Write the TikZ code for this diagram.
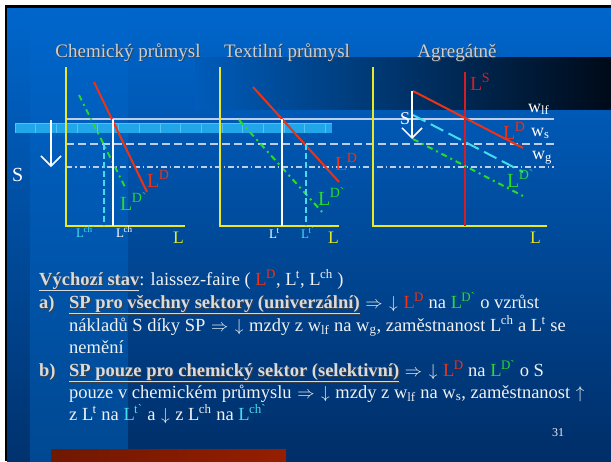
\documentclass[tikz,border=0pt]{standalone}
\usepackage{fontspec}
\setmainfont{Liberation Serif}
\usetikzlibrary{arrows.meta}
\definecolor{bgtop}{RGB}{0,102,204}
\definecolor{bgmid}{RGB}{0,86,176}
\definecolor{bgbot}{RGB}{0,46,104}
\definecolor{stripbot}{RGB}{0,72,146}
\definecolor{edgebot}{RGB}{0,50,110}
\definecolor{bandl}{RGB}{0,92,186}
\definecolor{bandm}{RGB}{0,46,100}
\definecolor{bandr}{RGB}{0,10,24}
\definecolor{axisy}{RGB}{232,232,40}
\definecolor{lred}{RGB}{240,50,20}
\definecolor{lsred}{RGB}{210,30,40}
\definecolor{lgreen}{RGB}{40,220,40}
\definecolor{lcyan}{RGB}{70,220,240}
\definecolor{wline}{RGB}{190,206,232}
\definecolor{txt}{RGB}{240,240,240}
\definecolor{ttl}{RGB}{205,205,205}
\definecolor{boldc}{RGB}{218,218,218}
\definecolor{stripe}{RGB}{34,166,234}
\definecolor{stripel}{RGB}{80,196,248}
\definecolor{barl}{RGB}{112,24,0}
\definecolor{barm}{RGB}{255,50,0}
\definecolor{barr}{RGB}{150,30,0}
\newcommand\shd[1]{\rlap{\kern1pt\raisebox{-1pt}{\color{black!75}#1}}#1}
\newcommand\bshd[1]{{\color{boldc}\shd{#1}}}
\newcommand\sups[1]{\kern-0.6pt\textsuperscript{#1}}
\newcommand\rLD{\textcolor{lred}{L\sups{D}}}
\newcommand\gLD{\textcolor{lgreen}{L\sups{D\textasciigrave}}}
\newcommand\cLt{\textcolor{lcyan}{L\sups{t\textasciigrave}}}
\newcommand\cLch{\textcolor{lcyan}{L\sups{ch\textasciigrave}}}
\newcommand\myimp{\kern1pt$\Rightarrow$\kern1pt}
\newcommand\mydn{\kern1pt$\downarrow$\kern1pt}
\newcommand\myup{\kern1pt$\uparrow$}
\tikzset{
  axisline/.style={draw=axisy, line width=2pt},
  wlf/.style={draw=wline, line width=2pt},
  ws/.style={draw=wline, line width=2pt, dash pattern=on 8pt off 4pt},
  wg/.style={draw=wline, line width=1.5pt, dash pattern=on 6pt off 3pt on 1.5pt off 3pt},
  redcurve/.style={draw=lred, line width=2pt},
  greencurve/.style={draw=lgreen, line width=2pt, dash pattern=on 6pt off 4pt on 2pt off 4pt},
  cyancurve/.style={draw=lcyan, line width=2pt, dash pattern=on 14pt off 6pt},
  marker/.style={draw=white, line width=1.5pt},
  cmarker/.style={draw=lcyan, line width=1.5pt, dash pattern=on 6pt off 3pt},
  sarrow/.style={draw=white, line width=1.5pt, -{Straight Barb[length=10pt,width=20pt,line width=1.5pt]}},
  title/.style={text=ttl, font=\fontsize{19}{22}\selectfont, inner sep=0pt},
  big/.style={font=\fontsize{20}{24}\selectfont, inner sep=0pt, anchor=base west},
  small/.style={font=\fontsize{13}{15}\selectfont, inner sep=0pt, anchor=base west},
  wlab/.style={text=white, font=\fontsize{18}{21}\selectfont, inner sep=0pt, anchor=base west},
  llab/.style={text=axisy, font=\fontsize{17.5}{20}\selectfont, inner sep=0pt, anchor=base west},
  body/.style={text=txt, font=\fontsize{18.5}{22}\selectfont, inner sep=0pt, anchor=base west},
}
\begin{document}
\begin{tikzpicture}[x=1pt,y=-1pt]
\useasboundingbox (0,0) rectangle (611,461);
% frame and background
\fill[white] (0,0) rectangle (611,461);
\fill[black] (5,5) rectangle (611,461);
\shade[top color=bgtop, middle color=bgmid, bottom color=edgebot] (7,8) rectangle (30,461);
\shade[top color=bgtop, middle color=bgmid, bottom color=stripbot] (30,8) rectangle (128,461);
\shade[top color=bgtop, middle color=bgmid, bottom color=bgbot] (128,8) rectangle (611,461);
\shade[left color=bandl, middle color=bandm, right color=bandr] (195,57) rectangle (611,109);
\shade[left color=barl, middle color=barm, right color=barr] (51,449) rectangle (286,461);
% stripe band
\fill[stripe] (15,123) rectangle (332,133);
\foreach \i in {0,...,15} {\draw[stripel, line width=0.8pt] (15+20.7*\i,123) -- (15+20.7*\i,133);}
\draw[stripel, line width=0.8pt] (15,123.5) -- (332,123.5);
% wage lines
\coordinate (wlfA) at (66,119); \coordinate (wlfB) at (554,119);
\coordinate (wsA) at (66,144); \coordinate (wsB) at (554,144);
\coordinate (wgA) at (66,167); \coordinate (wgB) at (554,167);
\draw[wlf] (wlfA) -- (wlfB);
\draw[ws] (wsA) -- (wsB);
\draw[wg] (wgA) -- (wgB);
% titles
\node[title] (t1) at (128,53) {\shd{Chemický průmysl}};
\node[title] (t2) at (287,53) {\shd{Textilní průmysl}};
\node[title] (t3) at (457,53) {\shd{Agregátně}};
% panel 1
\coordinate (o1) at (66,226); \coordinate (y1) at (66,67); \coordinate (x1) at (185,226);
\draw[axisline] (y1) -- (o1) -- (x1);
\coordinate (r1a) at (94,82); \coordinate (r1b) at (147,192);
\coordinate (g1a) at (79,95); \coordinate (g1b) at (125,187);
\draw[greencurve] (g1a) -- (g1b);
\draw[redcurve] (r1a) -- (r1b);
\coordinate (m1a) at (113,119); \coordinate (m1b) at (113,226);
\coordinate (c1a) at (104,144); \coordinate (c1b) at (104,226);
\draw[marker] (m1a) -- (m1b);
\draw[cmarker] (c1a) -- (c1b);
\coordinate (s1a) at (51,120); \coordinate (s1b) at (51,167);
\draw[sarrow] (s1a) -- (s1b);
\node[big, text=white] (S1) at (12,181) {S};
\node[big, text=lred] (LD1) at (147,187) {L\sups{D}};
\node[big, text=lgreen] (LDd1) at (120,210) {L\sups{D\textasciigrave}};
\node[small, text=lcyan] (Lchd) at (76,237) {L\sups{ch\textasciigrave}};
\node[small, text=white] (Lch) at (116,237) {L\sups{ch}};
\node[llab] (L1) at (173,243) {L};
% panel 2
\coordinate (o2) at (220,226); \coordinate (y2) at (220,67); \coordinate (x2) at (339,226);
\draw[axisline] (y2) -- (o2) -- (x2);
\coordinate (r2a) at (253,87); \coordinate (r2b) at (339,182);
\coordinate (g2a) at (239,120); \coordinate (g2b) at (323,213);
\draw[greencurve] (g2a) -- (g2b);
\draw[redcurve] (r2a) -- (r2b);
\coordinate (m2a) at (282,119); \coordinate (m2b) at (282,226);
\coordinate (c2a) at (306,144); \coordinate (c2b) at (306,226);
\draw[marker] (m2a) -- (m2b);
\draw[cmarker] (c2a) -- (c2b);
\node[big, text=lred] (LD2) at (335,170) {L\sups{D}};
\node[big, text=lgreen] (LDd2) at (318,205) {L\sups{D\textasciigrave}};
\node[small, text=white] (Lt) at (269,238) {L\sups{t}};
\node[small, text=lcyan] (Ltd) at (301,238) {L\sups{t\textasciigrave}};
\node[llab] (L2) at (328,243) {L};
% panel 3
\coordinate (o3) at (373,226); \coordinate (y3) at (373,67); \coordinate (x3) at (547,226);
\draw[axisline] (y3) -- (o3) -- (x3);
\coordinate (lsa) at (465,72); \coordinate (lsb) at (465,226);
\draw[draw=lsred, line width=2pt] (lsa) -- (lsb);
\coordinate (r3a) at (413,91); \coordinate (r3b) at (523,148);
\coordinate (c3a) at (413,115); \coordinate (c3b) at (523,172);
\coordinate (g3a) at (413,139); \coordinate (g3b) at (523,196);
\draw[greencurve] (g3a) -- (g3b);
\draw[cyancurve] (c3a) -- (c3b);
\draw[redcurve] (r3a) -- (r3b);
\coordinate (s3a) at (412,91); \coordinate (s3b) at (412,139);
\draw[sarrow] (s3a) -- (s3b);
\node[big, text=white, font=\fontsize{18}{21}\selectfont] (S3) at (400,124) {S};
\node[big, text=lsred] (LS) at (470,90) {L\sups{S}};
\node[big, text=lred] (LD3) at (503,139) {L\sups{D}};
\node[big, text=lgreen] (LDd3) at (507,187) {L\sups{D\textasciigrave}};
\node[wlab] (wlf) at (528,112) {w\textsubscript{lf}};
\node[wlab] (ws) at (531,136) {w\textsubscript{s}};
\node[wlab] (wg) at (532,159) {w\textsubscript{g}};
\node[llab] (L3) at (530,243) {L};
% body text
\node[body] (l1) at (39,285) {\bshd{\underline{\textbf{Výchozí stav}}}: laissez-faire ( \rLD, L\sups{t}, L\sups{ch} )};
\node[body] (la) at (39,308) {\bshd{\textbf{a)}}};
\node[body] (l2) at (69,308) {\bshd{\underline{\textbf{SP pro všechny sektory (univerzální)}}} \myimp\ \mydn\ \rLD\ na \gLD\ o vzrůst};
\node[body] (l3) at (69,331) {nákladů S díky SP \myimp\ \mydn\ mzdy z w\textsubscript{lf} na w\textsubscript{g}, zaměstnanost L\sups{ch} a L\sups{t} se};
\node[body] (l4) at (69,353) {nemění};
\node[body] (lb) at (39,376) {\bshd{\textbf{b)}}};
\node[body] (l5) at (69,376) {\bshd{\underline{\textbf{SP pouze pro chemický sektor (selektivní)}}} \myimp\ \mydn\ \rLD\ na \gLD\ o S};
\node[body] (l6) at (69,398) {pouze v chemickém průmyslu \myimp\ \mydn\ mzdy z w\textsubscript{lf} na w\textsubscript{s}, zaměstnanost \myup};
\node[body] (l7) at (69,420) {z L\sups{t} na \cLt\ a \mydn\ z L\sups{ch} na \cLch};
\node[text=txt, font=\fontsize{12}{14}\selectfont, inner sep=0pt] (pg) at (558,433) {31};
\end{tikzpicture}
\end{document}
